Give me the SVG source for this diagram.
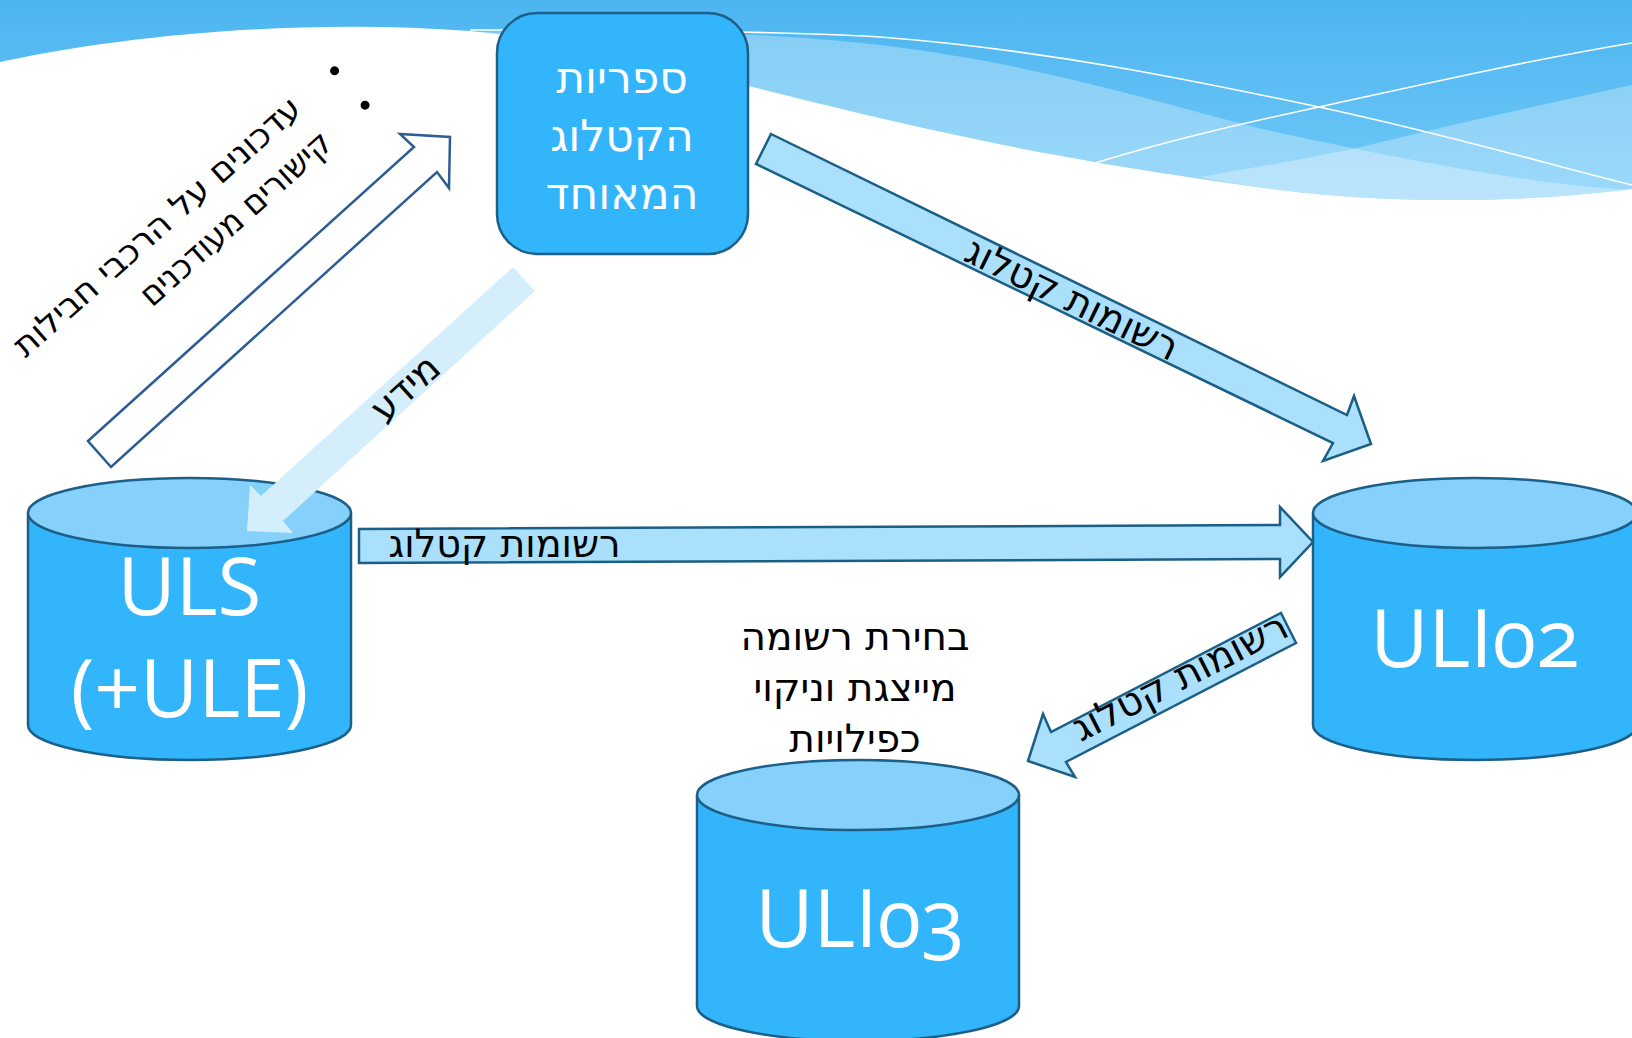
<svg xmlns="http://www.w3.org/2000/svg" width="1632" height="1038" viewBox="0 0 1632 1038">
<defs>
<linearGradient id="sky" x1="0" y1="0" x2="0" y2="1">
<stop offset="0" stop-color="#4CB5F0"/>
<stop offset="1" stop-color="#72C9F7"/>
</linearGradient>
<style>
.cyl-body{fill:#33B5FC;stroke:#1C5F88;stroke-width:2.5}
.cyl-top{fill:#86D1FC;stroke:#1C5F88;stroke-width:2.5}
.cyl-label{font-family:"Open Sans","Liberation Sans",sans-serif;font-weight:400;fill:#fff;font-size:80px;text-anchor:middle;font-variant-numeric:oldstyle-nums}
.he{font-family:"DejaVu Sans","Noto Sans",sans-serif}
.lbl{font-family:"DejaVu Sans","Noto Sans",sans-serif;fill:#000;text-anchor:middle}
.arrow{fill:#ABE0FC;stroke:#1B5E86;stroke-width:2.5}
.wline{fill:none;stroke:#fff;stroke-width:1.6}
.sheen{fill:#fff;fill-opacity:0.3}
</style>
</defs>
<rect width="1632" height="1038" fill="#fff"/>
<g id="background">
<path d="M0,0 H1632 V189 C1530,202 1400,205 1280,190 C1080,163 980,141 880,118 C700,76 600,42 470,31 C300,18 120,36 0,62 Z" fill="url(#sky)"/>
<path class="sheen" d="M440,33 C600,26 760,32 880,45 C1050,65 1180,110 1280,133 C1420,163 1540,185 1632,190 L1632,189 C1530,202 1400,205 1280,190 C1080,163 980,141 880,118 C700,76 600,42 470,31 Z"/>
<path class="sheen" d="M1200,177 C1250,168 1300,160 1352,149 C1450,125 1550,103 1632,85 V189 C1530,202 1400,205 1280,190 C1250,186 1225,182 1200,177 Z"/>
<path class="wline" d="M470,30 C650,30 800,32 880,37 C1050,50 1200,82 1319,107 C1450,135 1550,165 1632,185"/>
<path class="wline" d="M1095,163 C1170,140 1240,124 1319,107 C1420,85 1530,60 1632,43"/>
</g>
<g id="node-catalog">
<rect x="497" y="13" width="251" height="241" rx="40" fill="#33B5FC" stroke="#1C5F88" stroke-width="2.5"/>
<text class="he" font-size="44" fill="#fff" text-anchor="middle" x="622" y="93">ספריות</text>
<text class="he" font-size="44" fill="#fff" text-anchor="middle" x="622" y="151">הקטלוג</text>
<text class="he" font-size="44" fill="#fff" text-anchor="middle" x="622" y="209">המאוחד</text>
</g>
<g id="node-uls">
<path class="cyl-body" d="M28,513 V725 A161.5,35 0 0 0 351,725 V513"/>
<ellipse class="cyl-top" cx="189.5" cy="513" rx="161.5" ry="35"/>
<text class="cyl-label" x="189.5" y="615">ULS</text>
<text class="cyl-label" x="189.5" y="717">(+ULE)</text>
</g>
<g id="node-uli02">
<path class="cyl-body" d="M1313,513 V725 A162,35 0 0 0 1637,725 V513"/>
<ellipse class="cyl-top" cx="1475" cy="513" rx="162" ry="35"/>
<text class="cyl-label" x="1475" y="667">ULI02</text>
</g>
<g id="node-uli03">
<path class="cyl-body" d="M697,795 V1006 A161,35 0 0 0 1019,1006 V795"/>
<ellipse class="cyl-top" cx="858" cy="795" rx="161" ry="35"/>
<text class="cyl-label" x="860" y="947">ULI03</text>
</g>
<g id="note-dedup">
<text class="lbl" font-size="39" x="855" y="650">בחירת רשומה</text>
<text class="lbl" font-size="39" x="855" y="701">מייצגת וניקוי</text>
<text class="lbl" font-size="39" x="855" y="752">כפילויות</text>
</g>
<g id="connectors">
<polygon id="arrow-updates" points="88,441 414,147 400,134 450,137 449,188 437,172 111,467" fill="#fff" stroke="#2E5C94" stroke-width="2.5"/>
<polygon id="arrow-info" points="513,267 535,291 283,521 293,533 247,531 250,485 261,496" fill="#D5EEFC"/>
<polygon id="arrow-cat-uli02" class="arrow" points="771,134 1347,415 1354,396 1371,444 1323,461 1333,443 756,164"/>
<polygon id="arrow-uls-uli02" class="arrow" points="359,529 1280,525 1280,507 1313,542 1280,577 1280,559 359,563"/>
<polygon id="arrow-uli02-uli03" class="arrow" points="1281,613 1296,643 1066,762 1075,777 1028,761 1043,714 1051,732"/>
<text class="lbl" font-size="39" transform="translate(1072,299) rotate(26)" y="13" textLength="232" lengthAdjust="spacingAndGlyphs">רשומות קטלוג</text>
<text class="lbl" font-size="39" x="504.5" y="557" textLength="232" lengthAdjust="spacingAndGlyphs">רשומות קטלוג</text>
<text class="lbl" font-size="39" transform="translate(1180,677) rotate(-27)" y="13" textLength="236" lengthAdjust="spacingAndGlyphs">רשומות קטלוג</text>
<text class="lbl" font-size="38" transform="translate(405,388) rotate(-42)" y="13">מידע</text>
<g id="updates-label" transform="translate(303.8,111.5) rotate(-41.6)">
<circle cx="50" cy="-10" r="4.5" fill="#000"/>
<circle cx="50" cy="36" r="4.5" fill="#000"/>
<text class="he" font-size="34" x="0" y="0" text-anchor="end" textLength="372" lengthAdjust="spacingAndGlyphs">עדכונים על הרכבי חבילות</text>
<text class="he" font-size="34" x="0" y="46" text-anchor="end" textLength="244" lengthAdjust="spacingAndGlyphs">קישורים מעודכנים</text>
</g>
</g>
</svg>
